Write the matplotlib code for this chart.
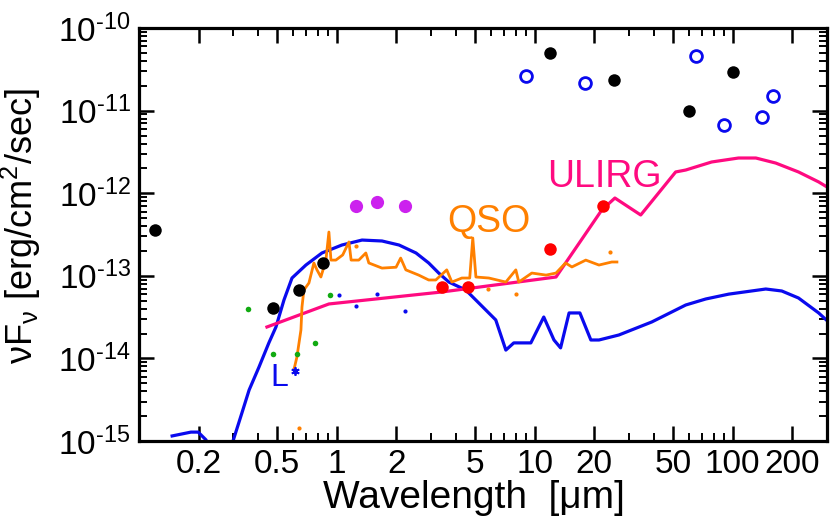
import matplotlib
matplotlib.use('Agg')
import matplotlib.pyplot as plt

plt.rcParams['font.family'] = ['Liberation Sans', 'DejaVu Sans']
plt.rcParams['mathtext.fontset'] = 'custom'
plt.rcParams['mathtext.rm'] = 'Liberation Sans'
plt.rcParams['mathtext.it'] = 'Liberation Sans:italic'
plt.rcParams['mathtext.bf'] = 'Liberation Sans:bold'

# L dwarf model
l_wave = [0.147, 0.183, 0.199, 0.218, 0.239, 0.278, 0.302, 0.331, 0.360, 0.404, 0.453, 0.492,
          0.540, 0.593, 0.697, 0.840, 1.06, 1.34, 1.69, 2.06, 2.51, 2.91, 3.27, 3.68, 4.48,
          5.21, 6.35, 7.14, 7.83, 9.55, 11.1, 12.5, 13.5, 14.9, 16.9, 19.2, 21.1, 26.6,
          39.0, 57.9, 73.1, 95.5, 147, 177, 215, 272, 305]
l_flux = [1.15e-15, 1.28e-15, 1.28e-15, 1.03e-15, 5.9e-16, 5.9e-16, 1.09e-15, 2.18e-15,
          4.14e-15, 7.87e-15, 1.54e-14, 2.40e-14, 5.09e-14, 9.4e-14, 1.35e-13, 1.89e-13,
          2.36e-13, 2.71e-13, 2.64e-13, 2.36e-13, 1.89e-13, 1.43e-13, 1.08e-13, 8.4e-14,
          6.73e-14, 4.69e-14, 2.92e-14, 1.26e-14, 1.54e-14, 1.54e-14, 3.17e-14, 1.67e-14,
          1.34e-14, 3.55e-14, 3.55e-14, 1.67e-14, 1.67e-14, 1.92e-14, 2.76e-14, 4.43e-14,
          5.24e-14, 6.0e-14, 6.92e-14, 6.55e-14, 5.39e-14, 3.55e-14, 2.76e-14]

# ULIRG template
u_wave = [0.443, 0.911, 3.39, 12.8, 21.8, 25.4, 34.3, 51.5, 57.9, 78.3, 107, 131, 165,
          215, 272, 305]
u_flux = [2.40e-14, 4.56e-14, 6.37e-14, 9.67e-14, 6.26e-13, 8.75e-13, 5.45e-13, 1.81e-12,
          1.91e-12, 2.39e-12, 2.67e-12, 2.67e-12, 2.32e-12, 1.81e-12, 1.37e-12, 1.16e-12]

# QSO spectrum
q_wave = [0.606, 0.628, 0.658, 0.666, 0.681, 0.722, 0.765, 0.793, 0.830, 0.880, 0.911,
          0.933, 0.988, 1.07, 1.15, 1.18, 1.29, 1.40, 1.45, 1.69, 1.99, 2.10, 2.23, 2.59,
          2.91, 3.16, 3.59, 3.81, 4.28, 4.69, 4.86, 5.04, 5.86, 7.14, 8.02, 8.30, 9.66,
          11.4, 12.8, 14.3, 15.4, 18.1, 21.1, 24.5, 26.0]
q_flux = [7.24e-15, 1.04e-14, 2.21e-14, 4.19e-14, 6.73e-14, 8.18e-14, 1.43e-13, 1.18e-13,
          9.67e-14, 1.55e-13, 3.39e-13, 1.55e-13, 1.55e-13, 1.79e-13, 2.57e-13, 1.55e-13,
          1.55e-13, 1.89e-13, 1.43e-13, 1.24e-13, 1.27e-13, 1.64e-13, 1.18e-13, 1.02e-13,
          8.9e-14, 8.9e-14, 1.18e-13, 8.4e-14, 9.4e-14, 9.4e-14, 2.87e-13, 9.67e-14,
          9.4e-14, 8.4e-14, 1.18e-13, 8.4e-14, 1.08e-13, 1.02e-13, 1.08e-13, 1.43e-13,
          1.28e-13, 1.55e-13, 1.35e-13, 1.47e-13, 1.47e-13]
q_pt_wave = [0.643, 1.25, 5.79, 8.02, 23.9]
q_pt_flux = [1.44e-15, 2.3e-13, 6.9e-14, 6.0e-14, 1.94e-13]

# photometry
black_wave = [0.12, 0.475, 0.643, 0.85, 12, 25, 60, 100]
black_flux = [3.58e-13, 4.07e-14, 6.73e-14, 1.43e-13, 4.98e-11, 2.35e-11, 1.0e-11, 2.93e-11]
open_wave = [9, 18, 65, 90, 140, 160]
open_flux = [2.62e-11, 2.16e-11, 4.58e-11, 6.7e-12, 8.37e-12, 1.50e-11]
purple_wave = [1.25, 1.6, 2.2]
purple_flux = [7.0e-13, 7.82e-13, 7.0e-13]
red_wave = [3.4, 4.6, 12, 22]
red_flux = [7.3e-14, 7.3e-14, 2.11e-13, 7.0e-13]
green_wave = [0.355, 0.475, 0.628, 0.774, 0.92]
green_flux = [3.96e-14, 1.13e-14, 1.13e-14, 1.54e-14, 5.86e-14]
bdot_wave = [1.02, 1.25, 1.6, 2.2]
bdot_flux = [5.86e-14, 4.3e-14, 6.0e-14, 3.75e-14]
star_wave = [0.614]
star_flux = [7.0e-15]

xtick_vals = [0.2, 0.5, 1, 2, 5, 10, 20, 50, 100, 200]
xtick_labels = ['0.2', '0.5', '1', '2', '5', '10', '20', '50', '100', '200']
xminor_vals = [0.3, 0.4, 0.6, 0.7, 0.8, 0.9, 3, 4, 6, 7, 8, 9, 30, 40, 60, 70, 80, 90]
ytick_vals = [1e-15, 1e-14, 1e-13, 1e-12, 1e-11, 1e-10]
ytick_labels = [r'10$^{\text{-}15}$', r'10$^{\text{-}14}$', r'10$^{\text{-}13}$',
                r'10$^{\text{-}12}$', r'10$^{\text{-}11}$', r'10$^{\text{-}10}$']

fig = plt.figure(figsize=(8.3, 5.2), dpi=100)
ax = fig.add_axes([0.1675, 0.152, 0.829, 0.794])

blue = '#0a0aee'
orange = '#ff8000'
pink = '#ff0a80'

ax.plot(l_wave, l_flux, color=blue, lw=2.3, zorder=2)
ax.plot(u_wave, u_flux, color=pink, lw=2.3, zorder=2)
ax.plot(q_wave, q_flux, color=orange, lw=2.0, zorder=3)
ax.plot(q_pt_wave, q_pt_flux, 'o', color=orange, ms=2, zorder=3)

ax.plot(green_wave, green_flux, 'o', color='#11aa11', ms=4, mew=0, zorder=4)
ax.plot(bdot_wave, bdot_flux, 'o', color=blue, ms=3, mew=0, zorder=4)
ax.plot(star_wave, star_flux, marker=(6, 2, 0), ls='none', color=blue, ms=6, mew=1.3, zorder=4)
ax.plot(purple_wave, purple_flux, 'o', color='#cc22ee', ms=9.5, mew=0, zorder=5)
ax.plot(red_wave, red_flux, 'o', color='#ff0000', ms=9, mew=0, zorder=5)
ax.plot(black_wave, black_flux, 'o', color='black', ms=9, mew=0, zorder=5)
ax.plot(open_wave, open_flux, 'o', mfc='white', mec=blue, ms=8.5, mew=2, zorder=5)

ax.text(0.509, 5.8e-15, 'L', color=blue, fontsize=23, ha='center', va='center')
ax.text(5.86, 4.48e-13, 'QSO', color=orange, fontsize=27, ha='center', va='center')
ax.text(22.6, 1.57e-12, 'ULIRG', color=pink, fontsize=27, ha='center', va='center')

ax.set_xscale('log')
ax.set_yscale('log')
ax.set_xlim(0.1, 300)
ax.set_ylim(1e-15, 1e-10)
ax.set_xticks(xtick_vals, xtick_labels)
ax.set_xticks(xminor_vals, minor=True)
ax.set_yticks(ytick_vals, ytick_labels)
ax.yaxis.set_minor_formatter(plt.NullFormatter())

ax.tick_params(which='both', direction='in', top=True, right=True, labelsize=24)
ax.tick_params(which='major', length=11, width=1.8, pad=6)
ax.tick_params(which='minor', length=6, width=1.4)
for s in ax.spines.values():
    s.set_linewidth(2.3)

ax.set_xlabel('Wavelength  [μm]', fontsize=28)
ax.xaxis.set_label_coords(0.487, -0.095)
ax.set_ylabel(r'νF$_{\mathregular{ν}}$ [erg/cm$^{\mathregular{2}}$/sec]', fontsize=26)
ax.yaxis.set_label_coords(-0.14, 0.52)

fig.savefig('out.png', dpi=100)
